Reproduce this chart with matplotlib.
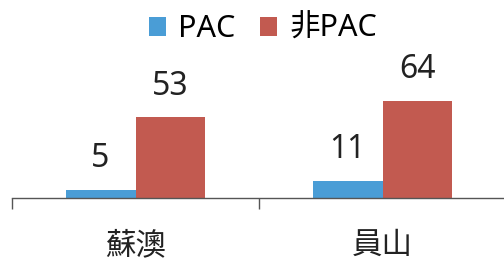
import matplotlib.pyplot as plt
import numpy as np

plt.rcParams['font.family'] = ['Noto Sans', 'Noto Sans CJK TC', 'DejaVu Sans']

categories = ["蘇澳", "員山"]
series_names = ["PAC", "非PAC"]
pac = [5, 11]
non_pac = [53, 64]
colors = ["#4a9dd6", "#c25a50"]

fig = plt.figure(figsize=(5.04, 2.63), dpi=100)
ax = fig.add_axes([12 / 504, 65 / 263, 494 / 504, 182.4 / 263])

x = np.arange(len(categories))
w = 0.283
b1 = ax.bar(x - w / 2, pac, w, color=colors[0], label=series_names[0])
b2 = ax.bar(x + w / 2, non_pac, w, color=colors[1], label=series_names[1])

for bars, vals in [(b1, pac), (b2, non_pac)]:
    for rect, v in zip(bars, vals):
        ax.annotate(str(v), (rect.get_x() + rect.get_width() / 2, rect.get_height()),
                    xytext=(0, 16.5), textcoords="offset points",
                    ha="center", va="baseline", fontsize=23, color="#222222")

ax.set_xlim(-0.5, 1.5)
ax.set_ylim(0, 120)
for s in ["top", "right", "left"]:
    ax.spines[s].set_visible(False)
ax.spines["bottom"].set_color("#555555")
ax.spines["bottom"].set_linewidth(1.0)
ax.set_yticks([])

ax.set_xticks(x)
ax.set_xticklabels(categories, fontsize=22, color="#222222")
ax.tick_params(axis="x", which="major", length=0, pad=24)
ax.set_xticks([-0.5, 0.5, 1.5], minor=True)
ax.tick_params(axis="x", which="minor", length=8, width=1.0, color="#555555", direction="out")

fig.legend(loc="center", bbox_to_anchor=(263 / 504, 1 - 29 / 263), ncol=2, frameon=False,
           fontsize=22, handlelength=0.56, handleheight=0.56, handletextpad=0.4,
           columnspacing=0.8, borderpad=0, borderaxespad=0)

fig.savefig("out.png", dpi=100)
